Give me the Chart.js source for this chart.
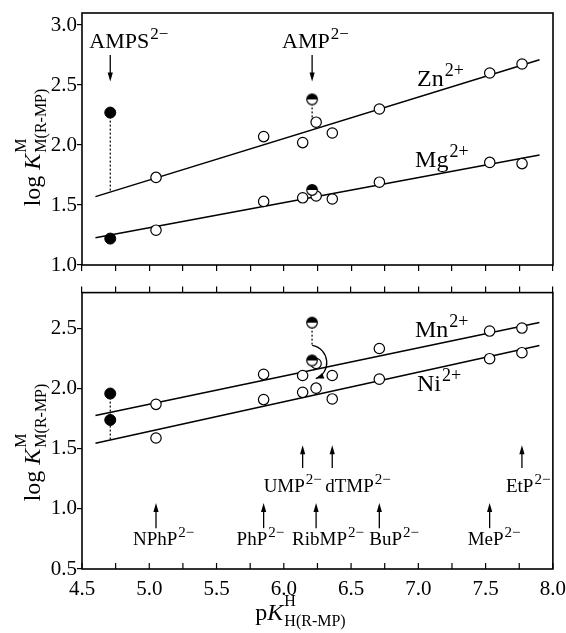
<!DOCTYPE html>
<html>
<head>
<meta charset="utf-8">
<script src="https://cdn.jsdelivr.net/npm/chart.js@4/dist/chart.umd.min.js"></script>
<style>
  body { margin: 0; background: #fff; }
  #wrap { position: relative; width: 566px; height: 633px; }
  canvas { position: absolute; left: 0; }
  #topPanel { top: 0; }
  #botPanel { top: 280px; }
</style>
</head>
<body>
<div id="wrap">
  <canvas id="topPanel" width="566" height="280"></canvas>
  <canvas id="botPanel" width="566" height="353"></canvas>
</div>
<script>
// ---- data ----
const pK = [5.05, 5.85, 6.14, 6.24, 6.36, 6.71, 7.53, 7.77];   // open circles (reference ligands)
const znVals = [1.73, 2.07, 2.02, 2.19, 2.10, 2.30, 2.60, 2.675];
const mgVals = [1.29, 1.53, 1.56, 1.575, 1.55, 1.69, 1.855, 1.845];
const mnVals = [1.87, 2.12, 2.11, 2.21, 2.11, 2.335, 2.48, 2.505];
const niVals = [1.59, 1.91, 1.97, 2.005, 1.915, 2.08, 2.25, 2.30];

const pK_AMPS = 4.71;
const pK_AMP = 6.21;
const ampsTop = [2.27, 1.22];     // Zn, Mg (filled)
const ampTop = [2.38, 1.625];     // Zn, Mg (half filled)
const ampsBot = [1.96, 1.74];     // Mn, Ni (filled)
const ampBot = [2.55, 2.235];     // Mn, Ni (half filled)

// straight-line fits (end points)
const fitX = [4.6, 7.9];
const znFit = [1.57, 2.71];
const mgFit = [1.228, 1.917];
const mnFit = [1.778, 2.552];
const niFit = [1.546, 2.359];

// reference ligands marked under the lines
const refNames = ['NPhP', 'PhP', 'RibMP', 'BuP', 'MeP', 'UMP', 'dTMP', 'EtP'];
const refPK = [5.05, 5.85, 6.24, 6.71, 7.53, 6.14, 6.36, 7.77];
const refRow = [0, 0, 0, 0, 0, 1, 1, 1];

const xTicks = [4.5, 5.0, 5.5, 6.0, 6.5, 7.0, 7.5, 8.0];

// ---- layout / style ----
const FAM = '"Liberation Serif", "Times New Roman", serif';
const fnt = (sz, it) => (it ? 'italic ' : '') + sz + 'px ' + FAM;
const refShift = [-23, -27, -24, -10, -22, -39, -7, -16];   // label left edge vs arrow, px
const arrowRows = [
  { from: 0.84, to: 1.05, label: 0.70 },
  { from: 1.34, to: 1.53, label: 1.14 }
];

Chart.defaults.font.family = FAM;
Chart.defaults.color = '#000';

function halfMarker(r) {
  const c = document.createElement('canvas');
  const s = Math.ceil(r * 2 + 3);
  c.width = c.height = s;
  const g = c.getContext('2d');
  const m = s / 2;
  g.beginPath(); g.arc(m, m, r, 0, 2 * Math.PI); g.fillStyle = '#fff'; g.fill();
  g.beginPath(); g.arc(m, m, r, Math.PI, 2 * Math.PI); g.closePath(); g.fillStyle = '#000'; g.fill();
  g.beginPath(); g.arc(m, m, r, 0, 2 * Math.PI); g.lineWidth = 1.2; g.strokeStyle = '#000'; g.stroke();
  return c;
}
const halfImg = halfMarker(5.3);

const xy = (xs, ys) => xs.map((x, i) => ({ x: x, y: ys[i] }));

function openSet(ys) {
  return { data: xy(pK, ys), pointStyle: 'circle', pointRadius: 5.2, pointBackgroundColor: '#fff',
           pointBorderColor: '#000', pointBorderWidth: 1.2, showLine: false, order: 0 };
}
function filledSet(ys) {
  return { data: ys.map(y => ({ x: pK_AMPS, y: y })), pointStyle: 'circle', pointRadius: 5.5,
           pointBackgroundColor: '#000', pointBorderColor: '#000', pointBorderWidth: 1, showLine: false, order: 0 };
}
function halfSet(ys) {
  return { data: ys.map(y => ({ x: pK_AMP, y: y })), pointStyle: halfImg, pointRadius: 5.5, showLine: false, order: -1 };
}
function fitSet(ys) {
  return { data: xy(fitX, ys), showLine: true, borderColor: '#000', borderWidth: 1.5, pointRadius: 0, order: 2 };
}
function dotSet(x, y1, y2) {
  return { data: [{ x: x, y: y1 }, { x: x, y: y2 }], showLine: true, borderColor: '#000', borderWidth: 1.2,
           borderDash: [2, 2], pointRadius: 0, order: 1 };
}

// text helpers
function drawSup(ctx, x, y, main, sup, mainSize, supSize, rise) {
  ctx.textAlign = 'left';
  ctx.textBaseline = 'alphabetic';
  ctx.font = fnt(mainSize);
  const w1 = ctx.measureText(main).width;
  ctx.fillText(main, x, y);
  ctx.font = fnt(supSize);
  ctx.fillText(sup, x + w1 + 1, y - rise);
}

function drawKTitle(ctx, cx, cy, pre, sup, sub, rotate) {
  ctx.save();
  ctx.translate(cx, cy);
  if (rotate) ctx.rotate(-Math.PI / 2);
  ctx.textAlign = 'left';
  ctx.textBaseline = 'alphabetic';
  ctx.font = fnt(24); const wPre = ctx.measureText(pre).width;
  ctx.font = fnt(24, true); const wK = ctx.measureText('K').width;
  ctx.font = fnt(16); const wSup = ctx.measureText(sup).width; const wSub = ctx.measureText(sub).width;
  const total = wPre + wK + Math.max(wSup, wSub);
  let x = -total / 2;
  ctx.font = fnt(24); ctx.fillText(pre, x, 0); x += wPre;
  ctx.font = fnt(24, true); ctx.fillText('K', x, 0); x += wK + 1;
  ctx.font = fnt(16); ctx.fillText(sup, x, -14); ctx.fillText(sub, x, 6);
  ctx.restore();
}

function arrow(ctx, x, yFrom, yTo) {
  const dir = Math.sign(yTo - yFrom);
  ctx.lineWidth = 1.3;
  ctx.beginPath(); ctx.moveTo(x, yFrom); ctx.lineTo(x, yTo - dir * 6); ctx.stroke();
  ctx.beginPath(); ctx.moveTo(x, yTo); ctx.lineTo(x - 2.6, yTo - dir * 9); ctx.lineTo(x + 2.6, yTo - dir * 9);
  ctx.closePath(); ctx.fill();
}

function frame(chart) {
  const a = chart.chartArea, ctx = chart.ctx;
  ctx.save();
  ctx.strokeStyle = '#000'; ctx.lineWidth = 1.6;
  ctx.strokeRect(a.left, a.top, a.right - a.left, a.bottom - a.top);
  ctx.restore();
}

function baseOptions(yMin, yMax) {
  return {
    responsive: false, animation: false, events: [],
    plugins: { legend: { display: false }, tooltip: { enabled: false } },
    scales: {
      x: {
        type: 'linear', min: 4.5, max: 8.0,
        border: { display: false },
        grid: { drawOnChartArea: false, drawTicks: true, tickLength: 6, color: '#000', lineWidth: 1.2 },
        ticks: { stepSize: 0.25, autoSkip: false, display: false }
      },
      y: {
        type: 'linear', min: yMin, max: yMax,
        border: { display: false },
        grid: { drawOnChartArea: false, drawTicks: true, tickLength: 5, color: '#000', lineWidth: 1.2 },
        ticks: { stepSize: 0.5, includeBounds: false, padding: 0, font: { size: 21 }, color: '#000',
                 callback: v => v.toFixed(1) },
        afterFit: s => { s.width = 82; }
      }
    }
  };
}

// ---- top panel: Zn2+ and Mg2+ ----
const topOpts = baseOptions(1.0, 3.1);
topOpts.layout = { padding: { top: 13, right: 13, left: 0, bottom: 0 } };
topOpts.scales.x.afterFit = s => { s.height = 15; };

new Chart(document.getElementById('topPanel'), {
  type: 'scatter',
  data: {
    datasets: [
      openSet(znVals), openSet(mgVals), filledSet(ampsTop), halfSet(ampTop),
      fitSet(znFit), fitSet(mgFit),
      dotSet(pK_AMPS, ampsTop[0], 1.62), dotSet(pK_AMP, ampTop[0], 2.22)
    ]
  },
  options: topOpts,
  plugins: [{
    id: 'topDeco',
    afterDraw(chart) {
      const ctx = chart.ctx, X = chart.scales.x, Y = chart.scales.y;
      frame(chart);
      ctx.save();
      ctx.fillStyle = '#000'; ctx.strokeStyle = '#000';
      // compound labels with arrows
      arrow(ctx, X.getPixelForValue(pK_AMPS), Y.getPixelForValue(2.75), Y.getPixelForValue(2.53));
      arrow(ctx, X.getPixelForValue(pK_AMP), Y.getPixelForValue(2.75), Y.getPixelForValue(2.53));
      drawSup(ctx, X.getPixelForValue(pK_AMPS) - 21, Y.getPixelForValue(2.81), 'AMPS', '2\u2212', 22, 17, 9);
      drawSup(ctx, X.getPixelForValue(pK_AMP) - 30, Y.getPixelForValue(2.81), 'AMP', '2\u2212', 22, 17, 9);
      // metal ion labels
      drawSup(ctx, X.getPixelForValue(6.99), Y.getPixelForValue(2.49), 'Zn', '2+', 24, 18, 10);
      drawSup(ctx, X.getPixelForValue(6.975), Y.getPixelForValue(1.817), 'Mg', '2+', 24, 18, 10);
      drawKTitle(ctx, 40, 148, 'log ', 'M', 'M(R-MP)', true);
      ctx.restore();
    }
  }]
});

// ---- bottom panel: Mn2+ and Ni2+ ----
const botOpts = baseOptions(0.5, 2.8);
botOpts.layout = { padding: { top: 0, right: 13, left: 0, bottom: 0 } };
botOpts.scales.x.grid = { display: false };
botOpts.scales.x.ticks = {
  stepSize: 0.25, autoSkip: false, maxRotation: 0, padding: 0, font: { size: 21 }, color: '#000',
  callback: v => (xTicks.some(t => Math.abs(t - v) < 1e-6) ? v.toFixed(1) : '')
};
botOpts.scales.x.afterFit = s => { s.height = 64; };
botOpts.scales.xTop = {
  type: 'linear', position: 'top', min: 4.5, max: 8.0,
  border: { display: false },
  grid: { drawOnChartArea: false, drawTicks: true, tickLength: 6, color: '#000', lineWidth: 1.2 },
  ticks: { stepSize: 0.25, autoSkip: false, display: false },
  afterFit: s => { s.height = 12; }
};

new Chart(document.getElementById('botPanel'), {
  type: 'scatter',
  data: {
    datasets: [
      openSet(mnVals), openSet(niVals), filledSet(ampsBot), halfSet(ampBot),
      fitSet(mnFit), fitSet(niFit),
      dotSet(pK_AMPS, ampsBot[0], 1.58), dotSet(pK_AMP, ampBot[0], 2.36)
    ]
  },
  options: botOpts,
  plugins: [{
    id: 'botDeco',
    afterDraw(chart) {
      const ctx = chart.ctx, X = chart.scales.x, Y = chart.scales.y;
      const a = chart.chartArea;
      const px = v => X.getPixelForValue(v), py = v => Y.getPixelForValue(v);
      frame(chart);
      ctx.save();
      ctx.fillStyle = '#000'; ctx.strokeStyle = '#000';
      // inward ticks on the bottom axis
      ctx.lineWidth = 1.2;
      for (let v = 4.5; v <= 8.0001; v += 0.25) {
        const x = px(v);
        ctx.beginPath(); ctx.moveTo(x, a.bottom); ctx.lineTo(x, a.bottom - 6); ctx.stroke();
      }
      // curved arrow from the AMP point down to the lower line
      ctx.lineWidth = 1.3;
      const sx = px(6.211), sy = py(2.36), ex = px(6.238), ey = py(2.085);
      const c1x = px(6.343), c1y = py(2.334), c2x = px(6.357), c2y = py(2.135);
      ctx.beginPath(); ctx.moveTo(sx, sy); ctx.bezierCurveTo(c1x, c1y, c2x, c2y, ex, ey); ctx.stroke();
      const ang = Math.atan2(ey - c2y, ex - c2x);
      ctx.beginPath();
      ctx.moveTo(ex, ey);
      ctx.lineTo(ex - 8 * Math.cos(ang) + 3 * Math.sin(ang), ey - 8 * Math.sin(ang) - 3 * Math.cos(ang));
      ctx.lineTo(ex - 8 * Math.cos(ang) - 3 * Math.sin(ang), ey - 8 * Math.sin(ang) + 3 * Math.cos(ang));
      ctx.closePath(); ctx.fill();
      // reference ligand arrows and labels
      refNames.forEach((n, i) => {
        const row = arrowRows[refRow[i]];
        const x = px(refPK[i]);
        arrow(ctx, x, py(row.from), py(row.to));
        drawSup(ctx, x + refShift[i], py(row.label), n, '2\u2212', 19, 15, 8);
      });
      // metal ion labels
      drawSup(ctx, px(6.975), py(2.434), 'Mn', '2+', 24, 18, 10);
      drawSup(ctx, px(6.99), py(1.985), 'Ni', '2+', 24, 18, 10);
      drawKTitle(ctx, 40, 163, 'log ', 'M', 'M(R-MP)', true);
      drawKTitle(ctx, 300, 340, 'p', 'H', 'H(R-MP)', false);
      ctx.restore();
    }
  }]
});
</script>
</body>
</html>
